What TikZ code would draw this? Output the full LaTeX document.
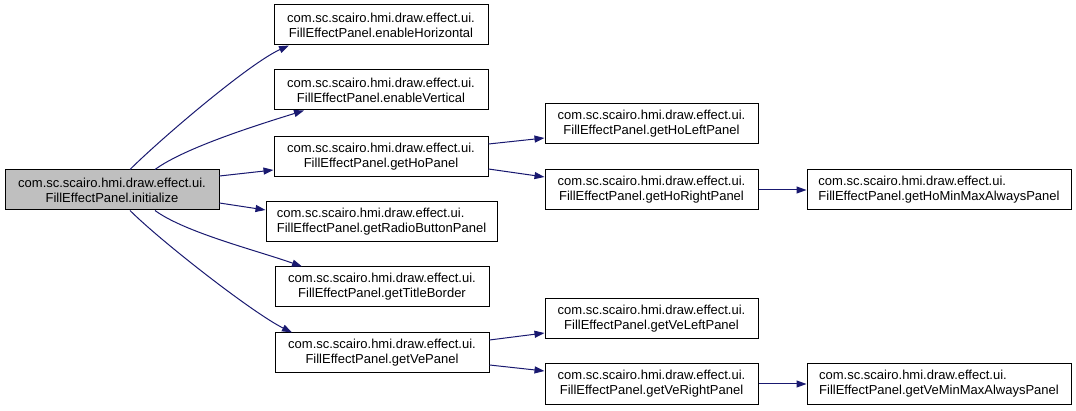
\documentclass[tikz,border=0pt]{standalone}
\usepackage{fontspec}
\setmainfont{Liberation Sans}
\usetikzlibrary{arrows.meta}
\definecolor{edgeblue}{HTML}{191970}
\definecolor{rootgray}{HTML}{BFBFBF}
\tikzset{
  fn/.style={draw=black, line width=1pt, fill=white, minimum height=40pt, inner sep=0pt,
    align=center, font=\fontsize{13}{15}\selectfont},
  fnl/.style={fn, align=left},
  call/.style={draw=edgeblue, line width=1pt, -{Triangle[length=10pt,width=7pt]}, fill=none},
}
\begin{document}
\begin{tikzpicture}[x=1pt,y=-1pt]
\useasboundingbox (0,0) rectangle (1076,411);
\node[fn, fill=rootgray, minimum width=214pt] (root) at (112,190) {com.sc.scairo.hmi.draw.effect.ui.\\FillEffectPanel.initialize};
\node[fn, minimum width=214pt] (eH) at (381,25) {com.sc.scairo.hmi.draw.effect.ui.\\FillEffectPanel.enableHorizontal};
\node[fn, minimum width=214pt] (eV) at (381,90) {com.sc.scairo.hmi.draw.effect.ui.\\FillEffectPanel.enableVertical};
\node[fn, minimum width=214pt] (gHo) at (381,157) {com.sc.scairo.hmi.draw.effect.ui.\\FillEffectPanel.getHoPanel};
\node[fnl, minimum width=231pt] (gRB) at (381.5,222) {com.sc.scairo.hmi.draw.effect.ui.\\FillEffectPanel.getRadioButtonPanel};
\node[fn, minimum width=214pt] (gTB) at (382,287) {com.sc.scairo.hmi.draw.effect.ui.\\FillEffectPanel.getTitleBorder};
\node[fn, minimum width=214pt] (gVe) at (382,353) {com.sc.scairo.hmi.draw.effect.ui.\\FillEffectPanel.getVePanel};
\node[fn, minimum width=213pt] (hoL) at (651.5,124) {com.sc.scairo.hmi.draw.effect.ui.\\FillEffectPanel.getHoLeftPanel};
\node[fn, minimum width=213pt] (hoR) at (651.5,190) {com.sc.scairo.hmi.draw.effect.ui.\\FillEffectPanel.getHoRightPanel};
\node[fnl, minimum width=264pt] (hoM) at (939,190) {com.sc.scairo.hmi.draw.effect.ui.\\FillEffectPanel.getHoMinMaxAlwaysPanel};
\node[fn, minimum width=213pt] (veL) at (651.5,319) {com.sc.scairo.hmi.draw.effect.ui.\\FillEffectPanel.getVeLeftPanel};
\node[fn, minimum width=213pt] (veR) at (651.5,384) {com.sc.scairo.hmi.draw.effect.ui.\\FillEffectPanel.getVeRightPanel};
\node[fnl, minimum width=264pt] (veM) at (939,384) {com.sc.scairo.hmi.draw.effect.ui.\\FillEffectPanel.getVeMinMaxAlwaysPanel};

\draw[call] ([xshift=18pt]root.north) .. controls +(30,-30) and +(-40,18) .. ([xshift=-92pt]eH.south);
\draw[call] ([xshift=43pt]root.north) .. controls +(30,-22) and +(-45,14) .. ([xshift=-77pt]eV.south);
\draw[call] ([yshift=14pt]root.east) -- ([yshift=-13pt]gHo.west);
\draw[call] ([yshift=-13pt]root.east) -- ([yshift=12pt]gRB.west);
\draw[call] ([xshift=43pt]root.south) .. controls +(30,22) and +(-45,-16) .. ([xshift=-80pt]gTB.north);
\draw[call] ([xshift=18pt]root.south) .. controls +(30,30) and +(-40,-20) .. ([xshift=-90pt]gVe.north);
\draw[call] ([yshift=13pt]gHo.east) -- ([yshift=-14pt]hoL.west);
\draw[call] ([yshift=-12pt]gHo.east) -- ([yshift=13pt]hoR.west);
\draw[call] (hoR.east) -- (hoM.west);
\draw[call] ([yshift=13pt]gVe.east) -- ([yshift=-14pt]veL.west);
\draw[call] ([yshift=-12pt]gVe.east) -- ([yshift=13pt]veR.west);
\draw[call] (veR.east) -- (veM.west);
\end{tikzpicture}
\end{document}
